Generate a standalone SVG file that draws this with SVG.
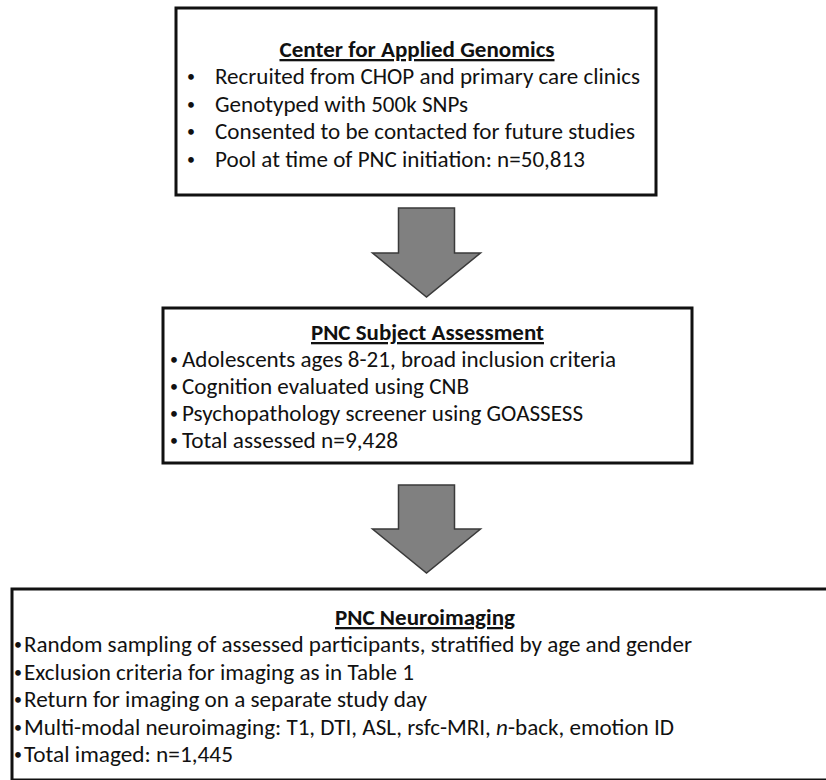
<svg xmlns="http://www.w3.org/2000/svg" width="826" height="780" viewBox="0 0 826 780">
<style>
  .box { fill: #ffffff; stroke: #111111; stroke-width: 3; }
  .arrow { fill: #808080; stroke: #3a3a3a; stroke-width: 1.5; stroke-linejoin: miter; }
  text { font-family: Carlito, Calibri, Lato, "Open Sans", sans-serif; font-size: 23px; fill: #111111; }
  .title { font-weight: bold; text-anchor: middle; text-decoration: underline; }
  .dot { text-anchor: middle; font-size: 16px; }
</style>
<rect x="0" y="0" width="826" height="780" fill="#ffffff"/>

<g id="connectors">
  <polygon class="arrow" points="398.5,208 454.5,208 454.5,253 480.5,253 426.5,297 372.5,253 398.5,253"/>
  <polygon class="arrow" points="398.5,485 454.5,485 454.5,529 480.5,529 426.5,573 372.5,529 398.5,529"/>
</g>

<g id="center-applied-genomics">
  <rect class="box" x="176" y="8" width="480" height="187"/>
  <text class="title" x="417" y="57" textLength="275" lengthAdjust="spacingAndGlyphs">Center for Applied Genomics</text>
  <text class="dot" x="191" y="82">•</text>
  <text x="215" y="84" textLength="425" lengthAdjust="spacingAndGlyphs">Recruited from CHOP and primary care clinics</text>
  <text class="dot" x="191" y="109.5">•</text>
  <text x="215" y="111.5" textLength="253" lengthAdjust="spacingAndGlyphs">Genotyped with 500k SNPs</text>
  <text class="dot" x="191" y="137">•</text>
  <text x="215" y="139" textLength="420" lengthAdjust="spacingAndGlyphs">Consented to be contacted for future studies</text>
  <text class="dot" x="191" y="164.5">•</text>
  <text x="215" y="166.5" textLength="370" lengthAdjust="spacingAndGlyphs">Pool at time of PNC initiation: n=50,813</text>
</g>

<g id="pnc-subject-assessment">
  <rect class="box" x="163" y="308" width="529" height="155"/>
  <text class="title" x="427.5" y="340" textLength="233" lengthAdjust="spacingAndGlyphs">PNC Subject Assessment</text>
  <text class="dot" x="174" y="365">•</text>
  <text x="182" y="367" textLength="434" lengthAdjust="spacingAndGlyphs">Adolescents ages 8-21, broad inclusion criteria</text>
  <text class="dot" x="174" y="392">•</text>
  <text x="182" y="394" textLength="287" lengthAdjust="spacingAndGlyphs">Cognition evaluated using CNB</text>
  <text class="dot" x="174" y="419">•</text>
  <text x="182" y="421" textLength="401" lengthAdjust="spacingAndGlyphs">Psychopathology screener using GOASSESS</text>
  <text class="dot" x="174" y="446">•</text>
  <text x="182" y="448" textLength="216" lengthAdjust="spacingAndGlyphs">Total assessed n=9,428</text>
</g>

<g id="pnc-neuroimaging">
  <rect class="box" x="12" y="589" width="826" height="191"/>
  <text class="title" x="425" y="625" textLength="180" lengthAdjust="spacingAndGlyphs">PNC Neuroimaging</text>
  <text class="dot" x="18" y="650">•</text>
  <text x="24" y="652" textLength="668" lengthAdjust="spacingAndGlyphs">Random sampling of assessed participants, stratified by age and gender</text>
  <text class="dot" x="18" y="677.5">•</text>
  <text x="24" y="679.5" textLength="390" lengthAdjust="spacingAndGlyphs">Exclusion criteria for imaging as in Table 1</text>
  <text class="dot" x="18" y="705">•</text>
  <text x="24" y="707" textLength="403" lengthAdjust="spacingAndGlyphs">Return for imaging on a separate study day</text>
  <text class="dot" x="18" y="732.5">•</text>
  <text x="24" y="734.5" textLength="650" lengthAdjust="spacingAndGlyphs">Multi-modal neuroimaging: T1, DTI, ASL, rsfc-MRI, <tspan font-style="italic">n</tspan>-back, emotion ID</text>
  <text class="dot" x="18" y="760">•</text>
  <text x="24" y="762" textLength="209" lengthAdjust="spacingAndGlyphs">Total imaged: n=1,445</text>
</g>
</svg>
